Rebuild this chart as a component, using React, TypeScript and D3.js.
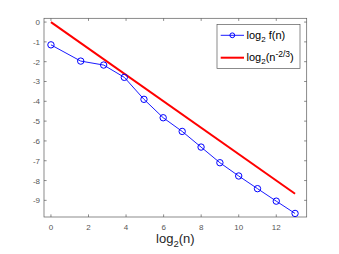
import React, { useRef, useEffect } from "react";
import * as d3 from "d3";

// log2(n) for n = 1, 3, 7, ..., 2^13-1
const xs = [0, 1.585, 2.807, 3.907, 4.954, 5.977, 6.989, 7.994, 8.997, 9.999, 11.0, 12.0, 13.0];
const fVals = [-1.15, -1.97, -2.17, -2.79, -3.9, -4.83, -5.52, -6.31, -7.1, -7.77, -8.41, -9.04, -9.66];
const refXs = [0, 13];
const refVals = [0, -8.667];
const xTicks = [0, 2, 4, 6, 8, 10, 12];
const yTicks = [0, -1, -2, -3, -4, -5, -6, -7, -8, -9];

const W = 339;
const H = 254;
const FONT = "Liberation Sans, Arial, Helvetica, sans-serif";

const App = () => {
  const ref = useRef<SVGSVGElement>(null);

  useEffect(() => {
    const svg = d3.select(ref.current);
    svg.selectAll("*").remove();

    const left = 44, right = 306.7, top = 18.3, bottom = 217;
    const x = d3.scaleLinear().domain([-0.37, 13.62]).range([left, right]);
    const y = d3.scaleLinear().domain([-9.84, 0.19]).range([bottom, top]);

    const axisColor = "#5a5a5a";
    const tickColor = "#555";

    // box
    const g = svg.append("g");
    g.append("rect")
      .attr("x", left).attr("y", top)
      .attr("width", right - left).attr("height", bottom - top)
      .attr("fill", "white").attr("stroke", axisColor).attr("stroke-width", 0.7);

    // ticks on all four sides, pointing in
    const tl = 2.6;
    xTicks.forEach((t) => {
      g.append("line").attr("x1", x(t)).attr("x2", x(t)).attr("y1", bottom).attr("y2", bottom - tl)
        .attr("stroke", axisColor).attr("stroke-width", 0.7);
      g.append("line").attr("x1", x(t)).attr("x2", x(t)).attr("y1", top).attr("y2", top + tl)
        .attr("stroke", axisColor).attr("stroke-width", 0.7);
      g.append("text").attr("x", x(t)).attr("y", bottom + 13)
        .attr("text-anchor", "middle").attr("font-size", 8).attr("font-family", FONT)
        .attr("fill", tickColor).text(t);
    });
    yTicks.forEach((t) => {
      g.append("line").attr("x1", left).attr("x2", left + tl).attr("y1", y(t)).attr("y2", y(t))
        .attr("stroke", axisColor).attr("stroke-width", 0.7);
      g.append("line").attr("x1", right).attr("x2", right - tl).attr("y1", y(t)).attr("y2", y(t))
        .attr("stroke", axisColor).attr("stroke-width", 0.7);
      g.append("text").attr("x", left - 4).attr("y", y(t) + 3)
        .attr("text-anchor", "end").attr("font-size", 8).attr("font-family", FONT)
        .attr("fill", tickColor).text(t);
    });

    // x label
    const xl = g.append("text").attr("x", (left + right) / 2).attr("y", 243)
      .attr("text-anchor", "middle").attr("font-size", 13).attr("font-family", FONT).attr("fill", "#262626");
    xl.append("tspan").text("log");
    xl.append("tspan").attr("font-size", 9.5).attr("dy", 3.5).text("2");
    xl.append("tspan").attr("dy", -3.5).text("(n)");

    const line = d3.line<[number, number]>().x((d) => x(d[0])).y((d) => y(d[1]));

    // reference line
    g.append("path")
      .attr("d", line(refXs.map((v, i) => [v, refVals[i]]) as [number, number][]))
      .attr("fill", "none").attr("stroke", "#ff0000").attr("stroke-width", 2);

    // f(n)
    const pts = xs.map((v, i) => [v, fVals[i]]) as [number, number][];
    g.append("path").attr("d", line(pts))
      .attr("fill", "none").attr("stroke", "#0000ff").attr("stroke-width", 0.9);
    g.selectAll(".mk").data(pts).enter().append("circle")
      .attr("class", "mk")
      .attr("cx", (d) => x(d[0])).attr("cy", (d) => y(d[1])).attr("r", 3.2)
      .attr("fill", "none").attr("stroke", "#0000ff").attr("stroke-width", 1);

    // legend
    const lx = 217, ly = 24.5, lw = 83, lh = 44;
    const leg = g.append("g");
    leg.append("rect").attr("x", lx).attr("y", ly).attr("width", lw).attr("height", lh)
      .attr("fill", "white").attr("stroke", axisColor).attr("stroke-width", 0.7);

    const e1 = 35.3, e2 = 57.7;
    leg.append("line").attr("x1", 220.7).attr("x2", 244).attr("y1", e1).attr("y2", e1)
      .attr("stroke", "#0000ff").attr("stroke-width", 0.9);
    leg.append("circle").attr("cx", 232.3).attr("cy", e1).attr("r", 2.4)
      .attr("fill", "none").attr("stroke", "#0000ff").attr("stroke-width", 1);
    leg.append("line").attr("x1", 220.7).attr("x2", 244).attr("y1", e2).attr("y2", e2)
      .attr("stroke", "#ff0000").attr("stroke-width", 2);

    const t1 = leg.append("text").attr("x", 246.5).attr("y", e1 + 3.5)
      .attr("font-size", 11).attr("font-family", FONT).attr("fill", "#000");
    t1.append("tspan").text("log");
    t1.append("tspan").attr("font-size", 8).attr("dy", 3).text("2");
    t1.append("tspan").attr("dy", -3).text(" f(n)");

    const t2 = leg.append("text").attr("x", 246.5).attr("y", e2 + 3.5)
      .attr("font-size", 11).attr("font-family", FONT).attr("fill", "#000");
    t2.append("tspan").text("log");
    t2.append("tspan").attr("font-size", 8).attr("dy", 3).text("2");
    t2.append("tspan").attr("dy", -3).text("(n");
    t2.append("tspan").attr("font-size", 8.5).attr("dy", -4.5).text("-2/3");
    t2.append("tspan").attr("dy", 4.5).text(")");
  }, []);

  return (
    <svg
      ref={ref}
      width={W}
      height={H}
      style={{ position: "absolute", left: 0, top: 0, background: "white" }}
    />
  );
};

export default App;
